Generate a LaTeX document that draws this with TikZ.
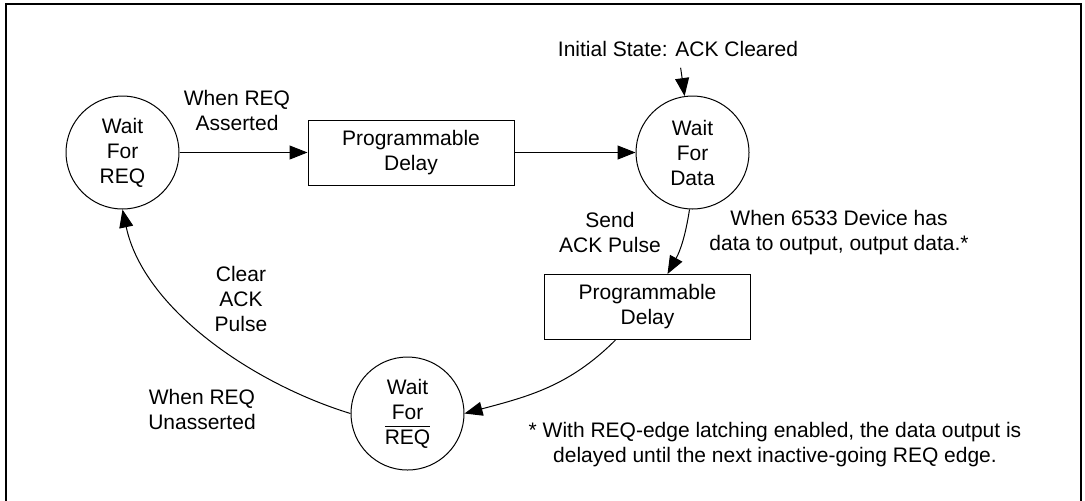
\documentclass[tikz,border=0pt]{standalone}
\usepackage{fontspec}
\setmainfont{Liberation Sans}
\usetikzlibrary{positioning, arrows.meta}

\begin{document}
\begin{tikzpicture}[
  x=0.5pt, y=-0.5pt,
  every node/.style={font=\fontsize{10.5}{12.5}\selectfont, align=center},
  state/.style={draw, circle, line width=0.5pt, minimum size=56.5pt, inner sep=0pt},
  delaybox/.style={draw, line width=0.5pt, minimum width=103pt, minimum height=32.5pt, inner sep=0pt},
  arrow/.style={-{Triangle[length=9pt, width=7pt]}, line width=0.5pt},
]
\useasboundingbox (0,0) rectangle (1085,500);
\draw[line width=1pt] (5.5,4) rectangle (1081,503);

% States and delays
\node[state] (wreq) at (122.5,152.5) {Wait\\For\\REQ};
\node[delaybox, right=64pt of wreq] (delayA) {Programmable\\Delay};
\node[state, right=60.5pt of delayA] (wdata) {Wait\\For\\Data};
\node[delaybox] (delayB) at (647.5,307) {Programmable\\Delay};
\node[state] (wreqbar) at (407.5,413.5) {Wait\\For\\$\overline{\mbox{REQ}}$};

% Labels
\node (initlbl) at (678,49) {Initial State: ACK Cleared};
\node (asserted) at (237,110.5) {When REQ\\Asserted};
\node (sendack) at (610,232.5) {Send\\ACK Pulse};
\node (hasdata) at (839,232.5) {When 6533 Device has\\data to output, output data.*};
\node (clearack) at (241,299) {Clear\\ACK\\Pulse};
\node (unasserted) at (202,409.5) {When REQ\\Unasserted};
\node (footnote) at (775,444.5) {* With REQ-edge latching enabled, the data output is\\delayed until the next inactive-going REQ edge.};

% Transitions
\draw[arrow, shorten <=2pt] (initlbl) -- (wdata);
\draw[arrow] (wreq) -- (delayA);
\draw[arrow] (delayA) -- (wdata);
\draw[arrow] (wdata.-93) to[bend left=10] ([xshift=10pt]delayB.north);
\draw[arrow] ([xshift=-16pt]delayB.south) to[out=-135, in=15] (wreqbar.east);
\draw[arrow] (wreqbar.west) to[out=163, in=-78, looseness=0.85] (wreq.south);
\end{tikzpicture}
\end{document}
